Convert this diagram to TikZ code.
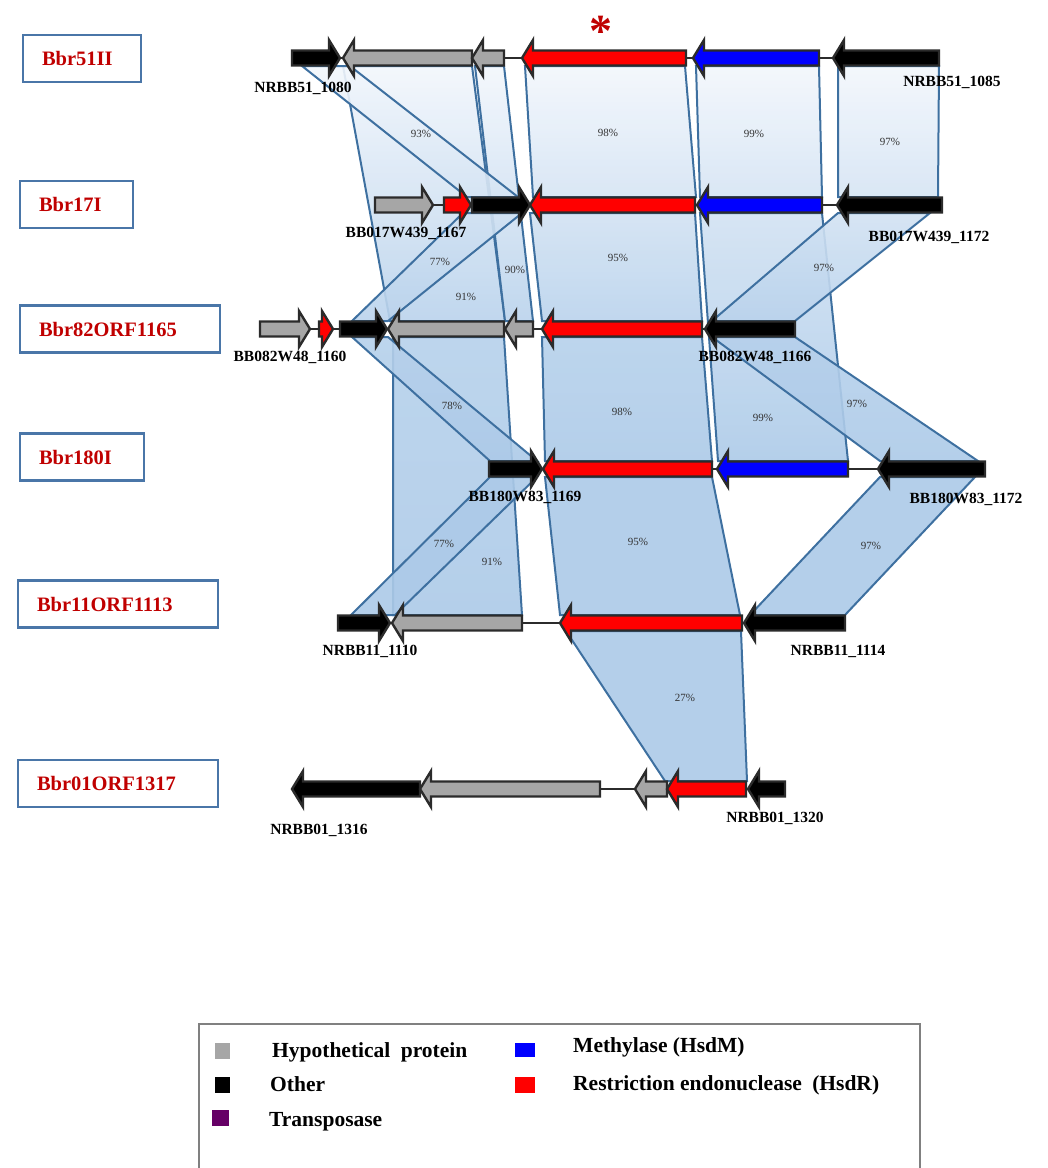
\documentclass[tikz,border=0pt]{standalone}
\usepackage{fontspec}
\setmainfont{Liberation Serif}
\usepackage{tikz}
\usetikzlibrary{calc}

\definecolor{bandline}{RGB}{62,112,160}
\definecolor{bandtop}{RGB}{243,247,252}
\definecolor{bandbot}{RGB}{172,202,232}
\definecolor{genegray}{RGB}{166,166,166}
\definecolor{geneedge}{RGB}{43,43,43}
\definecolor{namered}{RGB}{192,0,0}
\definecolor{boxblue}{RGB}{74,118,168}
\definecolor{transpurple}{RGB}{102,0,102}
\definecolor{framegray}{RGB}{128,128,128}

\tikzstyle{band}=[draw=bandline,line width=2pt,fill opacity=0.9]
\tikzstyle{gene}=[draw=geneedge,line width=2.4pt]
\tikzstyle{backbone}=[draw=geneedge,line width=2pt]
\tikzstyle{pct}=[text=black!80,font=\fontsize{11}{12}\selectfont,inner sep=0pt]
\tikzstyle{locus}=[font=\fontsize{15.5}{18}\selectfont\bfseries,inner sep=0pt]
\tikzstyle{strain}=[draw=boxblue,line width=2.2pt,text=namered,align=left,
  inner xsep=19pt,minimum height=47pt,font=\fontsize{20.5}{24}\selectfont\bfseries]
\tikzstyle{key}=[inner sep=0pt,minimum width=15pt,minimum height=16pt]
\tikzstyle{keytext}=[anchor=west,inner sep=0pt,font=\fontsize{21.5}{24}\selectfont\bfseries]

% gene arrow: tail x, tip x, row y, colour
\newcommand{\gene}[4]{%
  \pgfmathsetmacro{\hb}{(#2>#1)?(#2-11):(#2+11)}%
  \draw[gene,fill=#4] (#1,#3-7.5) -- (\hb,#3-7.5) -- (\hb,#3-18) -- (#2,#3)
    -- (\hb,#3+18) -- (\hb,#3+7.5) -- (#1,#3+7.5) -- cycle;}

% ribbon: top left, top right, top y, bottom left, bottom right, bottom y
\newcommand{\band}[6]{%
  \pgfmathtruncatemacro{\mt}{min(100,max(0,(#3-60)/3.2))}%
  \pgfmathtruncatemacro{\mb}{min(100,max(0,(#6-60)/3.2))}%
  \path[band,top color=bandbot!\mt!bandtop,bottom color=bandbot!\mb!bandtop]
    (#1,#3) -- (#2,#3) -- (#5,#6) -- (#4,#6) -- cycle;}

\begin{document}
\begin{tikzpicture}[x=1pt,y=-1pt]
\useasboundingbox (0,0) rectangle (1048,1168);

% strain boxes
\node[strain,text width=80pt]  (s51)  at (82,58.5)  {Bbr51II};
\node[strain,text width=75pt]  (s17)  at (76.5,204.5) {Bbr17I};
\node[strain,text width=162pt] (s82)  at (120,329)  {Bbr82ORF1165};
\node[strain,text width=86pt]  (s180) at (82,457)   {Bbr180I};
\node[strain,text width=162pt] (s11)  at (118,604)  {Bbr11ORF1113};
\node[strain,text width=162pt] (s01)  at (118,783.5) {Bbr01ORF1317};

\node[text=namered,font=\fontsize{46}{46}\selectfont\bfseries,inner sep=0pt] (star) at (601,31) {*};

% ribbons, long ones first
\band{343}{472}{66}{390}{505}{321}
\band{475}{504}{66}{505}{533}{321}
\band{700}{822}{213}{718}{848}{461}
\band{393}{504}{337}{393}{522}{615}
\band{302}{350}{66}{467}{518}{197}
\band{525}{685}{66}{533}{696}{197}
\band{696}{819}{66}{700}{822}{197}
\band{838}{939}{66}{838}{938}{197}
\band{463}{522}{213}{352}{388}{321}
\band{530}{695}{213}{542}{702}{321}
\band{838}{930}{213}{712}{795}{321}
\band{352}{388}{337}{490}{537}{461}
\band{542}{702}{337}{545}{712}{461}
\band{712}{795}{337}{880}{978}{461}
\band{490}{537}{477}{351}{395}{615}
\band{545}{712}{477}{560}{740}{615}
\band{880}{975}{477}{750}{845}{615}
\band{566}{741}{631}{665}{747}{781}

% identities
\node[pct] (p93a) at (421,134) {93\%};
\node[pct] (p98a) at (608,133) {98\%};
\node[pct] (p99a) at (754,134) {99\%};
\node[pct] (p97a) at (890,142) {97\%};
\node[pct] (p77a) at (440,262) {77\%};
\node[pct] (p90a) at (515,270) {90\%};
\node[pct] (p91a) at (466,297) {91\%};
\node[pct] (p95a) at (618,258) {95\%};
\node[pct] (p97b) at (824,268) {97\%};
\node[pct] (p78a) at (452,406) {78\%};
\node[pct] (p98b) at (622,412) {98\%};
\node[pct] (p99b) at (763,418) {99\%};
\node[pct] (p97c) at (857,404) {97\%};
\node[pct] (p77b) at (444,544) {77\%};
\node[pct] (p91b) at (492,562) {91\%};
\node[pct] (p95b) at (638,542) {95\%};
\node[pct] (p97d) at (871,546) {97\%};
\node[pct] (p27a) at (685,698) {27\%};

% Bbr51II
\draw[backbone] (292,58) -- (939,58);
\gene{292}{340}{58}{black}
\gene{472}{343}{58}{genegray}
\gene{504}{472}{58}{genegray}
\gene{686}{522}{58}{red}
\gene{819}{693}{58}{blue}
\gene{939}{833}{58}{black}

% Bbr17I
\draw[backbone] (375,205) -- (942,205);
\gene{375}{433}{205}{genegray}
\gene{444}{471}{205}{red}
\gene{472}{530}{205}{black}
\gene{695}{530}{205}{red}
\gene{822}{697}{205}{blue}
\gene{942}{837}{205}{black}

% Bbr82ORF1165
\draw[backbone] (260,329) -- (795,329);
\gene{260}{310}{329}{genegray}
\gene{319}{333}{329}{red}
\gene{340}{387}{329}{black}
\gene{504}{388}{329}{genegray}
\gene{533}{505}{329}{genegray}
\gene{702}{542}{329}{red}
\gene{795}{705}{329}{black}

% Bbr180I
\draw[backbone] (489,469) -- (985,469);
\gene{489}{542}{469}{black}
\gene{712}{543}{469}{red}
\gene{848}{717}{469}{blue}
\gene{985}{878}{469}{black}

% Bbr11ORF1113
\draw[backbone] (338,623) -- (845,623);
\gene{338}{390}{623}{black}
\gene{522}{392}{623}{genegray}
\gene{742}{560}{623}{red}
\gene{845}{744}{623}{black}

% Bbr01ORF1317
\draw[backbone] (292,789) -- (785,789);
\gene{420}{292}{789}{black}
\gene{600}{420}{789}{genegray}
\gene{667}{635}{789}{genegray}
\gene{746}{667}{789}{red}
\gene{785}{748}{789}{black}

% locus tags
\node[locus] (l1080) at (303,88)  {NRBB51\_1080};
\node[locus] (l1085) at (952,82)  {NRBB51\_1085};
\node[locus] (l1167) at (406,233) {BB017W439\_1167};
\node[locus] (l1172) at (929,237) {BB017W439\_1172};
\node[locus] (l1160) at (290,357) {BB082W48\_1160};
\node[locus] (l1166) at (755,357) {BB082W48\_1166};
\node[locus] (l1169) at (525,497) {BB180W83\_1169};
\node[locus] (l1172b) at (966,499) {BB180W83\_1172};
\node[locus] (l1110) at (370,651) {NRBB11\_1110};
\node[locus] (l1114) at (838,651) {NRBB11\_1114};
\node[locus] (l1316) at (319,830) {NRBB01\_1316};
\node[locus] (l1320) at (775,818) {NRBB01\_1320};

% legend
\draw[framegray,line width=2.5pt] (199,1175) |- (920,1024) -- (920,1175);
\node[key,fill=genegray] (khyp) at (222.5,1051) {};
\node[key,fill=black] (koth) at (222.5,1085) {};
\node[key,fill=transpurple,minimum width=17pt] (ktra) at (220.5,1118) {};
\node[key,fill=blue,minimum width=20pt,minimum height=14pt] (kmet) at (525,1050) {};
\node[key,fill=red,minimum width=20pt] (kres) at (525,1085) {};
\node[keytext] (thyp) at (272,1052) {Hypothetical\hspace{5pt} protein};
\node[keytext] (toth) at (270,1084) {Other};
\node[keytext] (ttra) at (269,1122) {Transposase};
\node[keytext] (tmet) at (573,1047) {Methylase (HsdM)};
\node[keytext] (tres) at (573,1085) {Restriction endonuclease\hspace{5pt} (HsdR)};

\end{tikzpicture}
\end{document}
